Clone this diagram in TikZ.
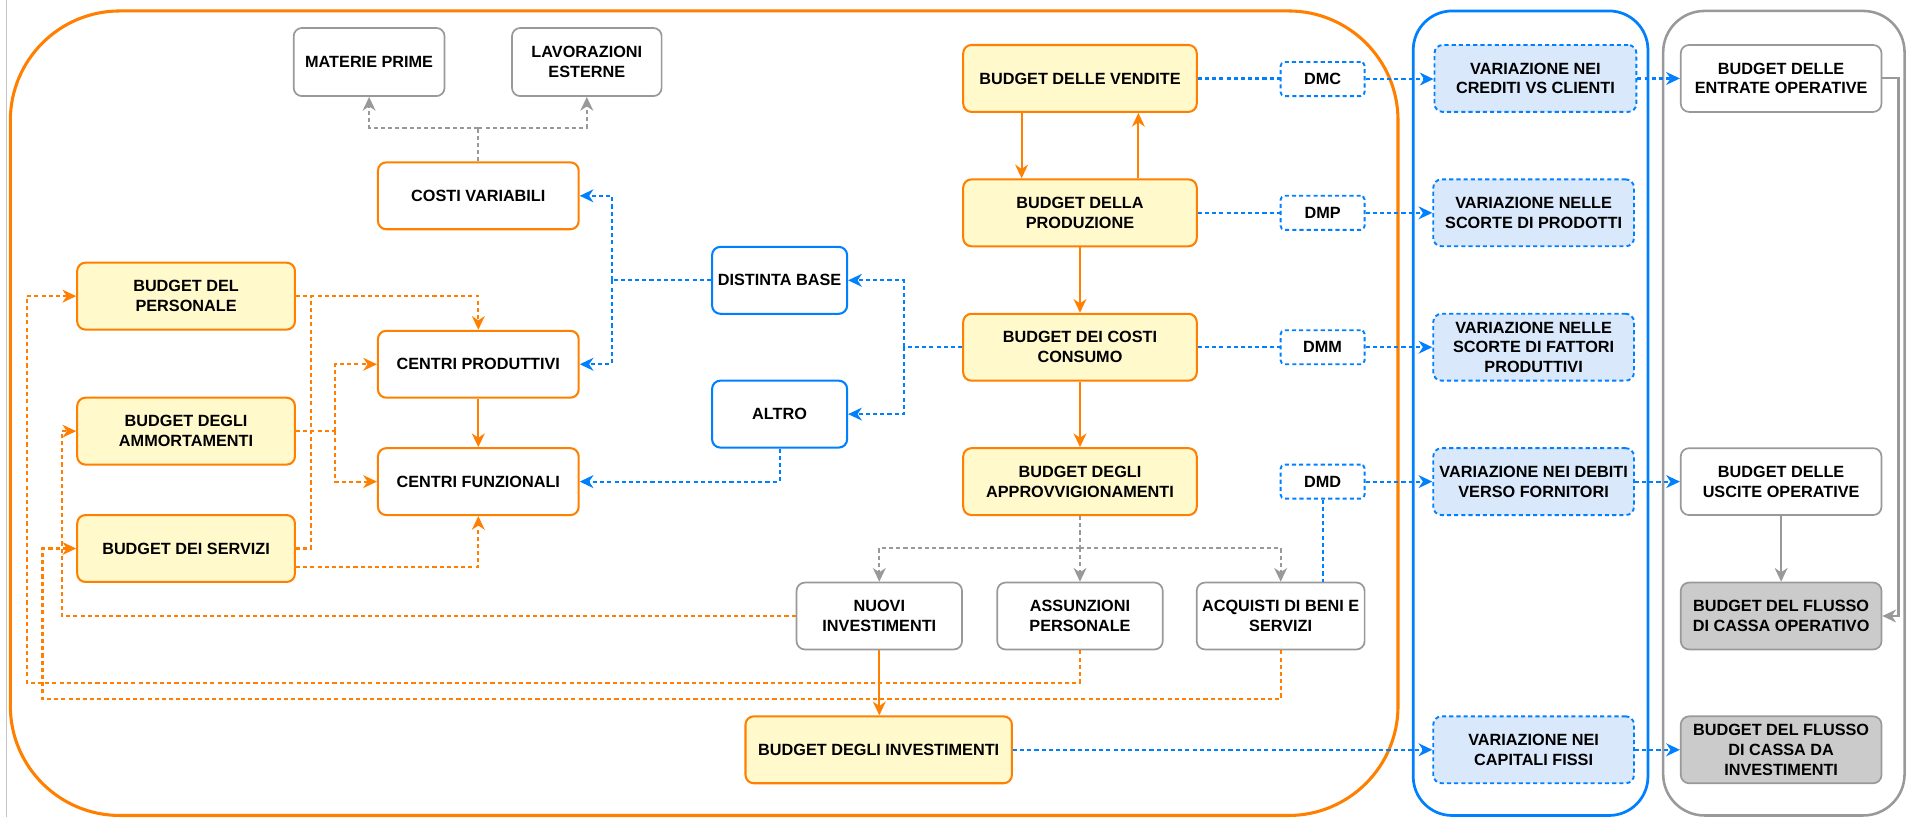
\documentclass[tikz,border=0pt]{standalone}
\usepackage{fontspec}
\setmainfont{Liberation Sans}
\usetikzlibrary{arrows.meta,calc}

\definecolor{orng}{HTML}{FF8000}
\definecolor{ylw}{HTML}{FFF9CC}
\definecolor{blu}{HTML}{007FFF}
\definecolor{bfill}{HTML}{DAE8FC}
\definecolor{gryline}{HTML}{999999}
\definecolor{gryfill}{HTML}{CBCBCB}
\definecolor{edgegray}{HTML}{C4C4C4}

\begin{document}
\begin{tikzpicture}[x=0.025cm, y=-0.025cm,
  font=\fontsize{9.5}{11.5}\selectfont\bfseries,
  box/.style={rectangle, rounded corners=0.17cm, align=center, inner sep=0pt,
    minimum height=1.375cm, text=black},
  obox/.style={box, draw=orng, line width=1.2pt, fill=white},
  ybox/.style={obox, fill=ylw},
  gbox/.style={box, draw=gryline, line width=1pt, fill=white},
  dbox/.style={gbox, fill=gryfill},
  bbox/.style={box, draw=blu, line width=1.2pt, fill=white},
  vbox/.style={box, draw=blu, line width=1.1pt, dash pattern=on 2.4pt off 1.8pt, fill=bfill},
  dmbox/.style={vbox, fill=white, minimum height=0.7cm, minimum width=1.725cm, rounded corners=0.08cm},
  tip/.style={-{Stealth[length=8pt,width=7.5pt,inset=2.5pt]}},
  oline/.style={draw=orng, line width=1.25pt},
  odash/.style={oline, dash pattern=on 2.4pt off 1.8pt},
  bdash/.style={draw=blu, line width=1.25pt, dash pattern=on 2.4pt off 1.8pt},
  gdash/.style={draw=gryline, line width=1.2pt, dash pattern=on 2.4pt off 1.8pt},
  gline/.style={draw=gryline, line width=1.2pt}
]
\useasboundingbox (0,0) rectangle (1568,672);

% page edge and group frames
\draw[edgegray, line width=0.5pt] (5.5,0) -- (5.5,672);
\draw[orng, line width=1.8pt, rounded corners=2.25cm] (8.5,9) rectangle (1149.5,670.5);
\draw[blu, line width=1.6pt, rounded corners=0.8cm] (1162,9) rectangle (1355,670.5);
\draw[gryline, line width=1.5pt, rounded corners=0.85cm] (1367.5,9) rectangle (1566,670.5);

% cost side
\node[gbox, minimum width=3.1cm, minimum height=1.4cm] (mp) at (303.5,51) {MATERIE PRIME};
\node[gbox, minimum width=3.075cm, minimum height=1.4cm] (lav) at (482.5,51) {LAVORAZIONI\\ESTERNE};
\node[obox, minimum width=4.125cm] (cv) at (393.3,161) {COSTI VARIABILI};
\node[ybox, minimum width=4.475cm] (pers) at (153,243.5) {BUDGET DEL\\PERSONALE};
\node[ybox, minimum width=4.475cm] (amm) at (153,354.5) {BUDGET DEGLI\\AMMORTAMENTI};
\node[ybox, minimum width=4.475cm] (serv) at (153,451) {BUDGET DEI SERVIZI};
\node[obox, minimum width=4.125cm] (cp) at (393.3,299.5) {CENTRI PRODUTTIVI};
\node[obox, minimum width=4.125cm] (cf) at (393.3,396) {CENTRI FUNZIONALI};
\node[bbox, minimum width=2.775cm] (db) at (641,230.5) {DISTINTA BASE};
\node[bbox, minimum width=2.775cm] (alt) at (641,340.5) {ALTRO};

% operating budgets
\node[ybox, minimum width=4.8cm] (ven) at (888,64.5) {BUDGET DELLE VENDITE};
\node[ybox, minimum width=4.8cm] (prod) at (888,175) {BUDGET DELLA\\PRODUZIONE};
\node[ybox, minimum width=4.8cm] (cons) at (888,285.5) {BUDGET DEI COSTI\\CONSUMO};
\node[ybox, minimum width=4.8cm] (appr) at (888,396) {BUDGET DEGLI\\APPROVVIGIONAMENTI};
\node[dmbox] (dmc) at (1087.5,65) {DMC};
\node[dmbox] (dmp) at (1087.5,175) {DMP};
\node[dmbox] (dmm) at (1087.5,285.5) {DMM};
\node[dmbox] (dmd) at (1087.5,396) {DMD};
\node[gbox, minimum width=3.4cm] (nuovi) at (723,506.5) {NUOVI\\INVESTIMENTI};
\node[gbox, minimum width=3.4cm] (ass) at (888,506.5) {ASSUNZIONI\\PERSONALE};
\node[gbox, minimum width=3.45cm] (acq) at (1053,506.5) {ACQUISTI DI BENI E\\SERVIZI};
\node[ybox, minimum width=5.475cm] (binv) at (722.5,616.5) {BUDGET DEGLI INVESTIMENTI};

% balance sheet changes
\node[vbox, minimum width=4.15cm] (vcr) at (1262.5,64.5) {VARIAZIONE NEI\\CREDITI VS CLIENTI};
\node[vbox, minimum width=4.125cm] (vsp) at (1261,175) {VARIAZIONE NELLE\\SCORTE DI PRODOTTI};
\node[vbox, minimum width=4.125cm] (vsf) at (1261,285.5) {VARIAZIONE NELLE\\SCORTE DI FATTORI\\PRODUTTIVI};
\node[vbox, minimum width=4.125cm] (vdf) at (1261,396) {VARIAZIONE NEI DEBITI\\VERSO FORNITORI};
\node[vbox, minimum width=4.125cm] (vcf) at (1261,616.5) {VARIAZIONE NEI\\CAPITALI FISSI};

% cash flow budgets
\node[gbox, minimum width=4.125cm] (ent) at (1464.5,64.5) {BUDGET DELLE\\ENTRATE OPERATIVE};
\node[gbox, minimum width=4.125cm] (usc) at (1464.5,396) {BUDGET DELLE\\USCITE OPERATIVE};
\node[dbox, minimum width=4.125cm] (fop) at (1464.5,506.5) {BUDGET DEL FLUSSO\\DI CASSA OPERATIVO};
\node[dbox, minimum width=4.125cm] (finv) at (1464.5,616.5) {BUDGET DEL FLUSSO\\DI CASSA DA\\INVESTIMENTI};

% main chain
\draw[oline, tip] ([xshift=-1.2cm]ven.south) -- ([xshift=-1.2cm]prod.north);
\draw[oline, tip] ([xshift=1.2cm]prod.north) -- ([xshift=1.2cm]ven.south);
\draw[oline, tip] (prod.south) -- (cons.north);
\draw[oline, tip] (cons.south) -- (appr.north);
\draw[oline, tip] (cp.south) -- (cf.north);
\draw[oline, tip] (nuovi.south) -- (nuovi.south |- binv.north);

% variable costs split
\coordinate (cvj) at (393.3,105);
\draw[gdash] (cv.north) -- (cvj);
\draw[gdash, tip] (cvj) -| (mp.south);
\draw[gdash, tip] (cvj) -| (lav.south);

% purchasing split
\coordinate (apj) at (888,450.6);
\draw[gdash] (appr.south) -- (apj);
\draw[gdash, tip] (apj) -| (nuovi.north);
\draw[gdash, tip] (apj) -- (ass.north);
\draw[gdash, tip] (apj) -| (acq.north);

% cash flow
\draw[gline, tip] (usc.south) -- (fop.north);
\coordinate (entr) at (1561,64.5);
\draw[gline, tip] (ent.east) -- (entr) |- (fop.east);

% bill of materials
\coordinate (bj1) at (743,285.5);
\draw[bdash] (cons.west) -- (bj1);
\draw[bdash, tip] (bj1) |- (db.east);
\draw[bdash, tip] (bj1) |- (alt.east);
\coordinate (bj2) at (503,230.5);
\draw[bdash] (db.west) -- (bj2);
\draw[bdash, tip] (bj2) |- (cv.east);
\draw[bdash, tip] (bj2) |- (cp.east);
\draw[bdash, tip] (alt.south) |- (cf.east);

% working capital links
\draw[bdash] (ven.east) -- (ven.east -| dmc.west);
\draw[bdash, tip] (dmc.east) -- (dmc.east -| vcr.west);
\draw[bdash] (prod.east) -- (dmp.west);
\draw[bdash, tip] (dmp.east) -- (vsp.west);
\draw[bdash] (cons.east) -- (dmm.west);
\draw[bdash, tip] (dmm.east) -- (vsf.west);
\draw[bdash, tip] (dmd.east) -- (vdf.west);
\draw[bdash] (dmd.south) -- (dmd.south |- acq.north);
\draw[bdash, tip] (vcr.east) -- (vcr.east -| ent.west);
\draw[bdash, tip] (vdf.east) -- (usc.west);
\draw[bdash, tip] (binv.east) -- (binv.east -| vcf.west);
\draw[bdash, tip] (vcf.east) -- (finv.west);

% cost centres
\draw[odash, tip] (pers.east) -| (cp.north);
\coordinate (sj) at (255.7,243.5);
\draw[odash] (serv.east) -| (sj);
\coordinate (aj) at (275.5,354.5);
\draw[odash] (amm.east) -- (aj);
\draw[odash, tip] (aj) |- (cp.west);
\draw[odash, tip] (aj) |- (cf.west);
\draw[odash, tip] ([yshift=-0.375cm]serv.east) -| (cf.south);

% feedback to resource budgets
\draw[odash, tip] (nuovi.west) -- (50.7,506.5) |- (amm.west);
\draw[odash, tip] (ass.south) -- (888,561.3) -| (22,243.5) -- (pers.west);
\draw[odash, tip] (acq.south) -- (1053,575) -| (35,451) -- (serv.west);
\end{tikzpicture}
\end{document}
